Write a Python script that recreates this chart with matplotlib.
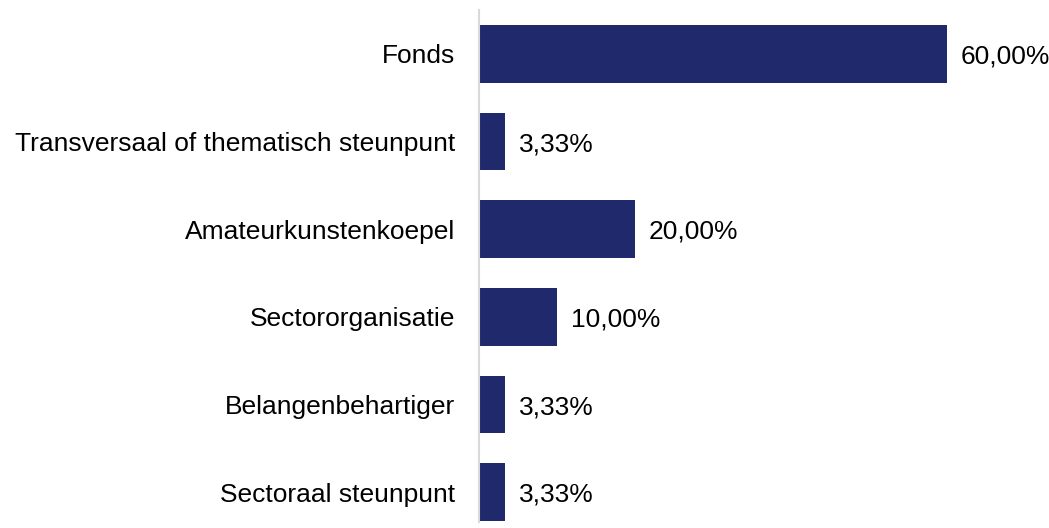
import matplotlib.pyplot as plt

# data
categories = ["Fonds", "Transversaal of thematisch steunpunt", "Amateurkunstenkoepel",
              "Sectororganisatie", "Belangenbehartiger", "Sectoraal steunpunt"]
values = [60.00, 3.33, 20.00, 10.00, 3.33, 3.33]
value_labels = ["60,00%", "3,33%", "20,00%", "10,00%", "3,33%", "3,33%"]

plt.rcParams['font.family'] = ['Liberation Sans', 'DejaVu Sans']

fig = plt.figure(figsize=(10.49, 5.28), dpi=100)
ax = fig.add_axes([479 / 1049, 6 / 528, 570 / 1049, 512 / 528])

pos = list(range(len(categories)))
bars = ax.barh(pos, values, height=0.66, color='#1F296B')

ax.set_xlim(0, 73.1)
ax.set_ylim(5.34, -0.5)
ax.set_yticks(pos)
ax.set_yticklabels(categories, fontsize=19)
ax.tick_params(axis='y', length=0, pad=17)
ax.set_xticks([])

for s in ['top', 'right', 'bottom']:
    ax.spines[s].set_visible(False)
ax.spines['left'].set_color('#d9d9d9')
ax.spines['left'].set_linewidth(1.5)

for b, lab in zip(bars, value_labels):
    ax.annotate(lab, (b.get_width(), b.get_y() + b.get_height() / 2),
                xytext=(10, -2), textcoords='offset points',
                va='center', ha='left', fontsize=19)

plt.savefig("out.png", dpi=100)
